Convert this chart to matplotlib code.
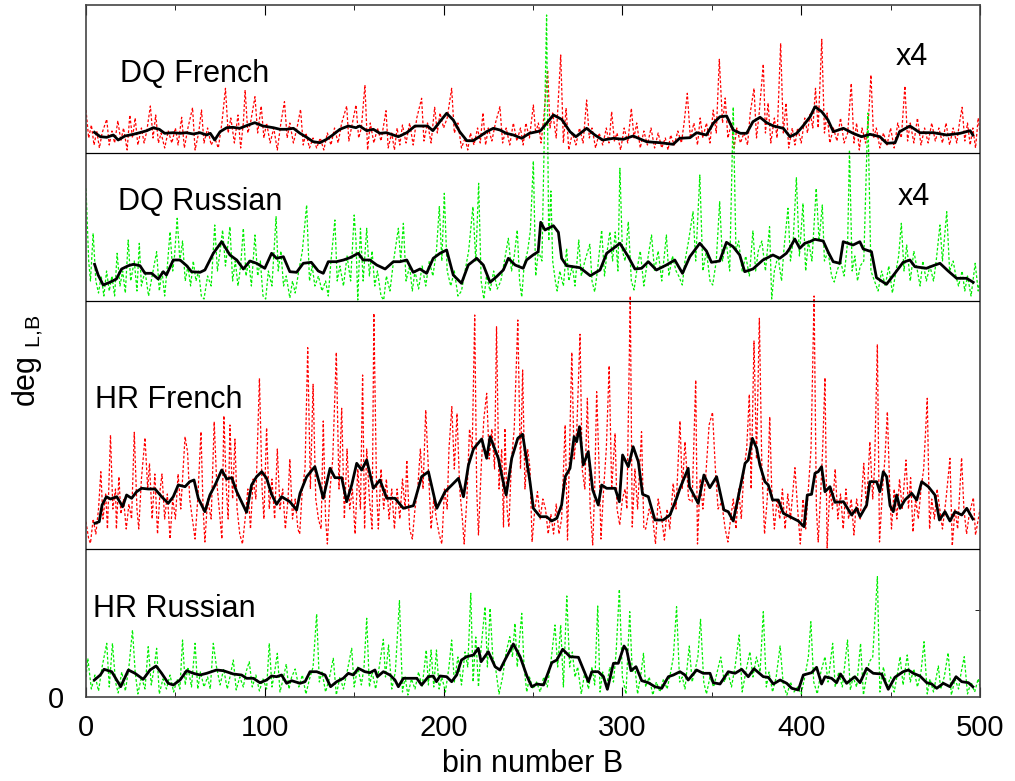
import matplotlib.pyplot as plt
from matplotlib.ticker import FixedLocator, MultipleLocator

plt.rcParams['font.family'] = ['Liberation Sans', 'DejaVu Sans']

# vertical offsets of the four stacked traces (same units as the values)
off_dq_fr = 544
off_dq_ru = 396
off_hr_fr = 148
off_hr_ru = 0
y_top = 692

# ---- DQ French (x4) ----
dq_fr_dots = [(0,43),(1.5,15),(3,28),(4.5,8),(6,22),(7.5,5),(9,20),(11.6,33.7),(13,8),(14.5,22),(16,10),(17.8,32.3),(19.5,12),(21,25),(23,3),(24.5,38),(26,15),(27.5,35),(29,8),(31,25),(32.5,10),(34,22),(36,47),(37.5,15),(39,38),(40.5,10),(42,20),(44,5),(46,22),(48,10),(50,25),(51.5,8),(53.5,35.7),(55,5),(57,25),(59.6,45.3),(61,3),(63,20),(64.6,43),(66,10),(68,25),(70,8),(72,15),(74,5),(76,30),(78,64.7),(79.5,20),(81,35),(83,10),(85,38),(86.5,5),(88,30),(89,63),(90.5,20),(92,30),(94.5,56.3),(96,20),(98,47),(99.5,15),(101,30),(103,10),(105,25),(107,3),(109,30),(111,51.3),(112.5,15),(114,30),(116,10),(118,25),(120,43.7),(121.5,8),(123,20),(125,5),(127,15),(129,5),(131,15),(133,3),(135,20),(137,8),(139,25),(141,10),(143,30),(145.8,47),(147,12),(149,30),(151,48),(152.5,15),(154,25),(156,68),(157.5,3),(159,30),(161,10),(163,25),(165,12),(167.8,42.3),(169,5),(171,20),(172.5,3),(174,25),(175.5,8),(177,28),(179,10),(181,30),(183,8),(185,35),(187.7,54.7),(189,12),(191,30),(193,10),(195,45.7),(196.5,20),(198,40),(200,25),(202,35),(204.5,64.7),(206,20),(208,30),(210,5),(212,15),(213.5,3),(215,20),(217,8),(219,25),(220.5,10),(222,40.3),(223.5,8),(225,25),(227,12),(229,30),(231.5,46.3),(233,10),(235,25),(237,8),(239,30),(241,12),(243,25),(244.5,8),(246,30),(248,15),(250.2,48),(251.5,20),(253,30),(254.5,10),(256,35),(258.2,83),(259.5,25),(261,40),(263,15),(265.5,98),(267,10),(268.5,45),(270,3),(272,20),(274,8),(276,25),(278,10),(280,53),(281.5,15),(283,25),(285,5),(287,20),(289,8),(291,25),(292.5,10),(294,41.3),(295.5,12),(297,20),(299,3),(301,25),(303,10),(305,44.7),(306.5,15),(308,30),(310,5),(312,22),(314,8),(316,25),(318,5),(320,20),(322,5),(324,15),(325.5,3),(327,18),(329,8),(331,22),(333,10),(334.5,30),(336.3,59.7),(338,15),(340,30),(342,8),(343.5,35),(345,15),(347,30),(349,10),(350.8,43),(352.5,20),(354.2,93.7),(356,30),(357.5,55),(359,15),(361,30),(362.5,5),(364,25),(366,10),(368,20),(370,8),(371.5,40),(373.6,64.7),(375,15),(376.5,40),(378.8,89),(380,20),(381.5,50),(383,10),(385,35),(386.5,15),(388.5,109.7),(390,20),(391.5,50),(393,5),(395,25),(396.5,8),(398,25),(400,10),(402,35),(403.5,20),(405,40),(406.5,25),(408,64.7),(409.5,25),(411.5,113.7),(413,20),(414.5,40),(416,10),(418,25),(420,12),(422,35),(424,10),(426,20),(428,69.7),(429.5,10),(431,30),(432.5,3),(434,25),(436,10),(437.5,30),(439,78),(440.5,15),(442,25),(444,5),(446,20),(448,8),(450,25),(452,5),(454,30),(456,15),(458,67),(459.5,12),(461,30),(463,10),(465,35),(467,8),(469,25),(471,10),(473,30),(475,12),(477,25),(479,10),(481,30),(483,8),(485,25),(487,10),(488.5,30),(490,45.7),(491.5,12),(493,30),(494.5,8),(496,25),(497.5,5),(499,35),(500,20)]
dq_fr_mean = [(4.7,20.7),(8,16.3),(11.6,15.7),(15.3,18),(18,13),(21.8,17),(26.5,18.7),(30,20.3),(34,22.3),(37.6,25.3),(41,23.7),(44,19.7),(48.8,20.3),(52.6,19.7),(56,20.3),(60,19),(63.7,20.3),(67.5,18),(69.5,19.7),(72,13),(75,21.3),(78.7,25.3),(82,25.7),(86,24.7),(90.7,28),(94.4,30.3),(99,27),(104.8,25.3),(108.5,23.7),(112,23.7),(116,24.7),(119.7,19.7),(123.4,15.7),(127,11.3),(130.8,10.3),(134.6,13.7),(138,18),(142,23.7),(146.7,27),(151,25.3),(153,27),(157,22.3),(160.7,23.7),(164.4,19.7),(168,20.3),(171.9,18),(174.7,16.3),(179.4,20.3),(184,27),(187.7,27),(191,27),(194,22.3),(197.9,31.3),(201.7,39.7),(205.4,33),(209,21.3),(213,12.3),(216.5,12.3),(220,16.3),(224,21.3),(227.8,24.7),(231.5,23),(235,19.7),(239,18),(243.7,14.7),(248,19.7),(254,22),(257.6,29.7),(261.4,38),(266,33.7),(270.7,21.3),(274,16.3),(280,24.7),(284.6,18),(289,13),(295,14.7),(300.5,13.7),(306,17),(313.5,11.3),(321,10.3),(328.4,8.7),(332,14.7),(337.8,15.3),(341.5,20.3),(347,18),(350.8,29.7),(354.6,36.3),(358.3,37),(362,23),(366,19.7),(369.5,19.7),(373,31.3),(377,35.7),(380.7,30.3),(384.5,27),(390,24.7),(393.7,16.3),(397.5,19.7),(401,27),(405,36.3),(407.7,46.3),(411.5,41.3),(415,33),(418,21.3),(423.6,24.7),(429,19.7),(433.8,16.3),(438.5,18.7),(444,16.3),(447.8,9.7),(452.5,10.3),(455,21.3),(460.8,27),(466.4,20.3),(474,20.3),(481.4,18),(488.9,19.7),(494.5,22.3),(496,18)]

# ---- DQ Russian (x4) ----
dq_ru_dots = [(0,112.7),(1.5,40),(2.5,20),(4,67.7),(5.5,20),(7,8),(8.5,25),(10,5),(11.5,30),(13,10),(14.5,25),(16,5),(17.4,47.7),(19,15),(20.5,30),(22,8),(23.6,61),(25,20),(27,40),(28.5,10),(29.8,57.7),(31,15),(33,30),(35,5),(37,25),(39.5,49.3),(41,10),(42.5,30),(44,5),(45.5,35),(47,69.3),(48.5,30),(49.5,45),(51,82.7),(52.5,40),(54,60),(55.5,20),(57,35),(58.5,15),(60,40),(61.5,20),(63,30),(64.5,5),(66,2),(68,25),(70,15),(72,76),(73.5,30),(75,50),(76.4,71),(78,35),(80.5,74.3),(82,20),(83.5,40),(85,15),(86.5,35),(88,72.7),(89.5,25),(91,40),(92.5,15),(94.5,66),(96,25),(97.5,40),(99,5),(100.5,2),(102,30),(104,15),(106.3,84.3),(107.5,30),(109,50),(110.5,15),(112,25),(114,3),(115.5,20),(117,8),(119,30),(121,50),(123.4,96),(125,20),(126.5,35),(128,15),(130,25),(132,10),(134,20),(135.5,5),(137,40),(139.2,81),(140.5,20),(142,35),(144,15),(146,45),(148,20),(150,86),(151,60),(152,1),(153.5,72.7),(155,20),(157,72.7),(158.5,25),(160,50),(161.5,15),(163,30),(165,5),(166.5,1),(168,25),(170,10),(172,40),(174.7,72.7),(176,40),(177.5,77.7),(179,20),(181,35),(182.5,10),(184,30),(186,12),(188,35),(190,15),(192,40),(194,25),(196,50),(197.6,94.3),(199,40),(200.4,107.7),(202,30),(204,15),(206,30),(208,5),(210,10),(212,30),(214,50),(216.4,94.3),(218,40),(219.6,117.7),(221,20),(222.5,2),(224,25),(226,10),(228,30),(230,12),(232,20),(234,40),(236.2,62.7),(238,30),(239.5,45),(241.2,71),(242.5,20),(243.7,4),(245,35),(247,50),(248.5,70),(250.2,140),(251.5,25),(253,50),(255,40),(257.6,286),(258.8,60),(260,110),(261,40),(262.5,20),(263.5,10),(265,30),(267,15),(268.8,52.7),(270,20),(272,35),(273.5,15),(275.6,61),(277,25),(279,40),(281.8,56.7),(283,20),(284.5,9),(286,30),(288.4,71),(290,25),(291.5,50),(293,69.3),(294.5,40),(296,69),(297.5,30),(298.6,132.7),(300,50),(301.5,40),(303.3,79.3),(305,20),(306.5,11),(308,30),(310,50),(312,15),(314,40),(316.3,66),(318,30),(320,50),(322,20),(324.6,66),(326,25),(328,45),(330,30),(331.5,25),(333.5,16),(335,40),(337,60),(339.5,89.3),(341,40),(343.3,126),(345,30),(347,50),(349,20),(350.5,16),(352.5,40),(354.4,99.3),(356,40),(358,60),(360,30),(362,194),(363.5,50),(365,60),(367,30),(369,45),(371,25),(373,70),(374.5,30),(376,50),(378,60),(380,30),(382.3,74.3),(383.5,2),(385,30),(387,45),(389,20),(390.5,55),(392.6,92.7),(394,40),(395.5,60),(397.3,123.3),(399,45),(401,97.7),(402.5,30),(404,60),(406,40),(408.4,112.7),(410,60),(411.8,96),(413,40),(415,50),(417,25),(418.5,19),(420,30),(422,40),(424,25),(426,60),(427,151),(428.5,30),(430,45),(431.5,20),(433,35),(435,40),(437.3,188),(439,30),(441,20),(443,10),(445,30),(447,15),(449,35),(451,8),(453,30),(454.5,45),(456,77.7),(457.5,30),(459,56),(461,20),(463,50),(465,30),(466.5,15),(468,40),(470,20),(472,35),(474,20),(475.5,40),(477.6,76),(479,40),(481.4,89.3),(483,30),(485,40),(486.5,25),(488,15),(490,30),(491.5,10),(493,25),(495,5),(497.3,37.7),(499,10),(500,20)]
dq_ru_mean = [(4.8,36.7),(6.8,26),(9.6,16),(13.3,18.7),(17,22),(19.9,32),(23.7,35.3),(26.5,36.7),(30.2,35.3),(33,27.7),(36.7,27.7),(40.4,22),(43.2,29.3),(45,26),(48.8,41),(52.6,41),(56.3,35.3),(59,29.3),(63.8,28.7),(66.5,31),(71.2,47.7),(75.9,59.3),(80.5,46),(84.3,41),(88,32),(91.7,40),(95.4,37.7),(100,32.7),(103.8,47.7),(106.6,42.7),(110.4,44.3),(114,29.3),(117.8,28.7),(121.5,37.7),(126,38.7),(129.9,30),(132.7,27.7),(135.5,39.3),(140,39.3),(144,41),(147.6,43.3),(152.3,47.7),(155,41),(158.8,41),(162.6,36),(167.3,32),(171.9,39.3),(175.6,39.3),(179.4,41),(183,28.7),(186.8,32),(190.5,27.7),(194.2,42.7),(198,47.7),(201.7,51),(205.4,26),(210,17.7),(213.8,36),(218.5,42.7),(222.2,36),(226,18.7),(229.6,24.3),(233.4,31),(236.2,42.7),(240,36),(244.5,32.7),(246.4,41),(250,46),(252.9,49.3),(254.3,78.7),(256.7,71),(261.4,75.3),(264.2,68.7),(266,42.7),(268.8,35.3),(276.3,33.3),(282,25.3),(287.5,31),(291.2,47.7),(295,52.7),(298.6,57.7),(303.3,44.3),(307,32),(310.7,32.7),(314.5,39.3),(319,31),(324.6,36),(329.3,41),(333.6,27.7),(337.7,44.3),(343.3,57.7),(347,50),(349.8,38.7),(354.4,40),(358.2,58.7),(361.9,54.3),(365.6,46),(368.4,29.3),(373,32),(378.6,41),(384.2,46),(388,42.7),(391.7,47.7),(393.6,52.7),(396.4,62),(399.2,52.7),(402,57.7),(404.8,59.3),(407.6,61.7),(412.3,60),(415,49.3),(417.9,39.3),(421.6,37.7),(423.5,59.3),(429,56),(432.8,59.3),(434.7,52),(439.3,49.3),(442.1,23.3),(447.7,16.7),(452.4,27.7),(457,38.7),(460.8,41),(463.6,34.3),(470,32.7),(473.8,35.3),(477.6,37.7),(482.2,30),(486.9,22.7),(492.5,22.7),(496.2,18.7)]

# ---- HR French ----
hr_fr_dots = [(0,27.3),(1.5,10),(2.5,5.7),(4,30),(5.5,15),(7,40),(8.3,77.3),(9.5,30),(11,55),(12,20),(13.7,114),(15,40),(16.5,60),(17,20),(18.4,72.3),(19.5,35),(21,50),(22.5,20),(24,45),(25.5,30),(27,116.7),(28.5,40),(29.5,20),(31,70),(33,111.3),(34.5,60),(35.5,85.7),(37,30),(38.5,75),(40,15),(41.5,60),(42.5,75),(44,30),(45.5,55),(47,10),(48.5,50),(50,30),(51.5,75),(53,40),(55.4,112.3),(56.8,97),(58,50),(59.5,30),(61,10),(62.5,50),(64.3,117.3),(65.5,40),(66.5,7),(68,50),(70,30),(71.7,127.3),(73,70),(74.5,40),(76,10),(77.1,133.3),(78.5,60),(79.5,30),(80.5,124),(82,50),(83.3,110),(84.5,40),(86,15),(87.5,5),(89,30),(90.5,60),(92,20),(93.5,70),(95,50),(97,170.7),(98.5,60),(99.5,30),(101,121.3),(102.5,40),(104,70),(105.5,30),(107,100),(108.5,40),(110,60),(111.5,20),(113,50),(114,90),(115.5,30),(117,50),(118.5,20),(119.5,15),(121,60),(122.5,80),(124,201.3),(125.5,60),(127,164.7),(128.5,50),(130,30),(131.5,20),(132.7,128),(134,30),(135,5),(136.5,60),(138,90),(140,196.7),(141.5,60),(143,140.7),(144.5,30),(146,100),(147.5,40),(149,60),(150.5,15),(152,80),(153.5,40),(154.7,174),(155.8,20),(157,100),(158.5,50),(160,20),(161,235.7),(162.5,60),(163.5,20),(165,80),(166.5,40),(168,70),(169.5,30),(171,60),(172.5,20),(174,60),(175.5,30),(177,70),(178.5,40),(179.4,89),(181,20),(182.5,10),(184,40),(185.5,60),(187,100),(188.5,60),(190,139),(191.5,80),(193,20),(194.5,50),(196,30),(197.5,15),(199,5),(200.5,60),(202,40),(203,100),(204.6,142.3),(206,80),(207.5,135.7),(209,60),(210.5,30),(211.5,5),(213,50),(214.5,120),(216,100),(217.4,234),(218.5,60),(219.5,14),(221,80),(222.5,130),(224.1,155.7),(225.5,90),(227,120),(228.5,80),(229.6,222.3),(231,60),(232.5,100),(233.5,22),(234.3,120.7),(235.5,40),(236.5,22),(238,90),(239.5,120),(241.5,229),(243,80),(244.2,179),(245.5,60),(247,100),(248.3,80.7),(249.5,7),(251,40),(252.5,57.3),(254,30),(255.5,50),(257,40),(258.5,15),(260,35),(261.5,15),(263,45),(264.5,15),(266,30),(268,124),(269.3,9),(271.7,196.7),(273,90),(274.5,120),(276.3,214.7),(277.5,80),(279,60),(280.4,150.7),(282,40),(283.4,4),(284.5,60),(285.6,157.3),(287,80),(288,10),(289.5,60),(291,100),(292.6,183.3),(294,60),(295.9,115.7),(297,40),(298.5,24),(300,50),(301.5,60),(302.5,40),(304.4,253),(305.5,22),(307,80),(308.5,40),(310.7,117.3),(312,20),(313,20),(315,40),(317,30),(318.5,5),(320,50),(322,30),(323.5,9),(325,40),(326.5,20),(328.4,65.7),(330,40),(332.2,128),(333.5,60),(335,107.3),(337,50),(339,47),(341,169),(342,5),(343.5,70),(345,40),(346.5,70),(348.5,124),(350.4,136.7),(352,80),(353.5,40),(355.5,47),(357.5,20),(359,7),(360.5,30),(362,50),(363.5,20),(365,60),(366.5,30),(368,80),(369.5,100),(371,154.7),(372,60),(373.6,208),(375,90),(376.6,230.7),(378,80),(379.5,15),(381,50),(382.4,132.3),(383.5,60),(385,20),(386.5,50),(388,30),(389.5,60),(391,20),(392.5,55),(394,30),(396.5,81.3),(398,40),(399.5,5),(401,50),(402.5,20),(404,60),(405.5,100),(407.2,253),(408.5,40),(409.5,7),(411,60),(412,100),(413.3,171.3),(414.5,1),(416,60),(417.5,40),(419,80),(420.5,30),(422,55),(423.5,20),(425,60),(426.5,30),(428,50),(429.5,14),(431,50),(433,30),(435,85.7),(436.5,40),(438.4,107.3),(440,50),(441,80),(442.6,204.7),(443.8,7),(445.5,60),(446.8,90),(448.2,137.3),(449.5,60),(450.5,20),(452,60),(453.5,30),(455,70),(456.5,40),(458.6,89),(460,40),(461.2,71.3),(462.5,17),(464,50),(465.5,30),(467,60),(468.5,80),(470.5,150.7),(471.8,20),(473,50),(474.5,30),(476,60),(477.5,40),(479,20),(481,50),(483.2,90.7),(484.5,3),(486,40),(487.5,20),(489.7,91.3),(491,40),(492.5,15),(494,35),(496.3,51.3),(497.5,14),(499,30),(500,40)]
hr_fr_mean = [(5,25.7),(7.4,27.3),(9,44),(11.4,52.3),(13.7,50),(17.2,52.3),(20.5,42.3),(22.7,54),(25.5,50.7),(28.3,57.3),(31.1,60.7),(34.8,60),(38.6,60),(42.3,52.3),(46,45.7),(48.8,52.3),(51.6,64),(55.4,62.3),(58,67.3),(60.4,69),(62.8,50.7),(66.5,37.3),(69.3,54),(72.2,64),(75.9,79),(78.7,70),(81.5,71.3),(84.3,57.3),(87,47.3),(89.8,36.7),(92.6,64),(95.4,72.3),(98.3,77.3),(101,70.7),(103.8,54.7),(106.6,44.7),(109.4,52.3),(114,47.3),(117.8,39),(119.7,55.7),(123.4,72.3),(128,82.3),(130.8,64),(132.7,50.7),(136.5,80.7),(139.2,71.3),(143,71.3),(145.8,47.3),(148.6,64),(151.4,85.7),(154.2,79),(157,89),(160.7,60.7),(164.4,69),(168.2,50.7),(172.8,50.7),(177.5,40.7),(183.1,43.3),(187.7,72.3),(191.5,77.3),(196.2,40.7),(200.8,57.3),(204.6,64),(208.3,70.7),(211.1,52.3),(213.9,84),(216.7,100),(221.3,110),(224.1,90.7),(226,112.3),(230.6,90.7),(232.5,74),(235,54),(238.1,90.7),(241.5,110.7),(244.2,114.7),(248.3,67.3),(250.2,40.7),(254,32.3),(257.6,32.3),(260.4,28),(263.3,30.7),(266,44),(268,72.3),(270.7,80.7),(273,112.3),(274.4,107.3),(276,122.3),(278.1,84),(280.9,97.3),(283.4,59),(286.5,44),(288.4,64),(291.2,60.7),(295.9,60.7),(298.3,47.3),(300.1,94),(303.3,82.3),(306,102.3),(308.9,87.3),(311.3,54.7),(314.5,52.3),(318.2,29),(322.8,29),(326.6,34),(330.3,50.7),(332.2,60.7),(336.8,80.7),(337.5,62.3),(342.4,45.7),(345.6,74),(348.9,61.3),(352.7,72.3),(356.8,39),(359.2,37.3),(362,28),(365.8,60.7),(368.6,85.7),(370.4,89),(372.7,110.7),(375.1,100.7),(376.9,84),(379.7,67.3),(381.6,64),(384,49),(387.2,49),(390,35.7),(393.7,32.3),(398.4,28),(401.6,22.3),(403.4,54),(405.8,54.7),(407.7,75.7),(409.5,77.3),(411.4,82.3),(413.3,57.3),(416.1,62.3),(418.9,46.7),(423.6,47.3),(428.2,34),(431,40.7),(432.9,32.3),(436.6,44),(438.4,67.3),(442.2,67.3),(444,57.3),(445.9,77.3),(447.8,72.3),(449.7,43.3),(451.5,37.3),(453.4,54),(455.3,40.7),(458,49),(461.8,55.7),(464.6,49),(467.4,67.3),(471.1,62.3),(474.8,54),(477.3,29),(480.4,37.3),(483.2,28),(486,37.3),(489.8,34),(492.6,40.7),(496,30)]

# ---- HR Russian ----
hr_ru_dots = [(0,20),(1,38.7),(3,8),(5,22),(7,6),(9,30),(11.6,53.7),(13,10),(14.8,53.7),(16.5,15),(18,4),(20,25),(22,6),(24,30),(26,67),(27.5,25),(29,3),(31,20),(33,8),(34.8,50.3),(36.5,12),(38,28),(39.5,48.7),(41,3),(43,18),(45,8),(47,22),(49,5),(51,18),(52.5,8),(54,57),(55.5,12),(57,30),(59,10),(61,53.7),(62.5,8),(64,25),(66,10),(68,20),(69.5,8),(71.2,53.7),(73,30),(75,12),(77,28),(79,8),(80.5,20),(82.4,37),(84,7),(86,20),(88,10),(89.5,25),(91.3,35.3),(93,10),(95,22),(97,6),(99,18),(101,8),(102.5,53.7),(104,10),(105.5,25),(107,43.7),(108.5,5),(110.5,20),(112,33),(113.5,8),(115,20),(117,28),(119,10),(121,22),(123,3),(125,18),(127,30),(129,83),(130.5,15),(132,25),(134,5),(136,18),(138.3,38.7),(140,2),(142,20),(144,8),(146,25),(148.6,48.7),(150,10),(152,30),(154,12),(155.5,30),(157,78.7),(158.5,10),(160,25),(162,8),(164,30),(166.3,57.7),(167.5,20),(169.2,52),(171,8),(173,25),(175.3,96.3),(177,5),(178.5,20),(180,2),(182,18),(184,8),(186,25),(188,10),(190.3,47),(191.5,12),(193,47),(194.5,10),(196,47),(197.5,8),(199,20),(201,5),(203,30),(204.5,57),(206,15),(208,40),(210,12),(212,45),(213.5,30),(215.2,103.7),(216.5,15),(218,60),(219.5,10),(221,50),(223.2,90.3),(224.5,30),(226,88.7),(227.5,40),(229,30),(231,3),(233,20),(235,45),(237,60.3),(238.5,40),(239.9,73.7),(241.2,30),(243.7,83.7),(245,30),(246.5,5),(248,20),(250,8),(252,15),(254,5),(256,20),(258,10),(260,35),(262.3,72),(263.8,30),(265.5,72),(267,10),(268.9,101),(270.5,30),(272,45),(273.5,20),(275,30),(277,3),(279,25),(281,8),(283,30),(284.5,12),(286.2,91),(287.5,5),(289,25),(291,10),(293,30),(295,15),(296.5,45),(298.3,107.7),(300,20),(302,3),(304.1,85.3),(305.5,25),(307,30),(308.5,3),(310.5,25),(311.8,43.7),(313,10),(315,20),(317,2),(319,15),(321,5),(323,18),(325,8),(327,25),(328.5,40),(330.3,90.3),(332,15),(333.5,20),(335,8),(337.4,51),(339,15),(341,30),(342.2,40),(343.7,77.7),(345.5,15),(347,3),(349,20),(351,10),(353,25),(355,40),(357,15),(359,25),(361,10),(363,30),(365.3,62),(367,5),(369,25),(371.3,45.3),(373,20),(375,40),(377,25),(378.8,85.3),(380.5,10),(382,25),(384,5),(386,20),(388.2,51),(390,12),(392,2),(394,15),(396,5),(398,10),(400,3),(402,20),(404,40),(405.4,75.3),(407,15),(409,3),(411,25),(413.3,40.3),(415,15),(417.6,53.7),(419,10),(421,25),(423,10),(425.9,57),(427.5,7),(429,20),(431,10),(433.2,53.7),(434.8,2),(436.5,20),(438,35),(440,40),(442.6,120.3),(444,5),(446,30),(448,10),(450,20),(452,5),(454,25),(455.3,40.3),(457,12),(459.3,42),(461,15),(463,28),(465,10),(467,25),(468.7,55.3),(470.5,3),(472,18),(474,5),(476.7,31),(478,8),(480,20),(482.2,44.3),(484,2),(486,18),(488,8),(489.5,25),(491.2,40.3),(493,3),(495,15),(497,5),(499,18.3),(500,10)]
hr_ru_mean = [(4.7,17),(8,22),(10.1,27.7),(14.4,25.3),(17.2,17),(19.4,10.3),(23.7,27),(27.4,23.7),(32,17.7),(35.8,27),(39.2,31),(42.3,23.7),(46,13.7),(48.8,12),(52.6,17),(56.3,26.3),(60,23.7),(63.8,22),(67.5,23.7),(73,27),(76.8,26.3),(82.4,23),(87,22),(89.8,18.7),(93.6,18.7),(97.3,14.3),(101,17),(103.8,21),(106.6,20.3),(109.4,22),(112.2,13.7),(115,16.3),(119.7,13.7),(122.5,15.3),(125.3,25.3),(129,25.3),(133.7,22),(136.8,10.3),(140.2,15.3),(143.9,18.7),(146.7,23.7),(149.5,22),(152.3,28.7),(156,25.3),(158.8,24.3),(161.6,27),(163,20.3),(166.3,25.3),(170,22),(172.8,17),(174.7,10.3),(177.5,18.7),(181.2,18.7),(185,18.7),(187.7,12),(191.5,20.3),(194.2,21),(196,15.3),(198,21),(201.7,20.3),(204.5,15.3),(207.3,22),(210,37),(212.9,40.3),(216.7,42),(219.4,48.7),(221,35.3),(225,45.3),(228.8,30.3),(231.5,27),(234.3,37),(239,53),(242.8,40.3),(246.6,21),(249.3,10.3),(252.2,13),(255.9,12),(260.5,34.3),(263.3,37),(266.6,47.7),(270.7,40.3),(275.4,39.7),(279.1,23.7),(281,15.3),(282.9,25.3),(286.5,25.3),(289.4,20.3),(291.6,7.7),(295,33.7),(297.7,33.7),(300.9,51),(302.4,47),(304.8,26.3),(307.6,30.3),(310.8,16.3),(314.5,14.3),(318.2,10.3),(322,8.7),(325.7,20.3),(328.5,22),(332.2,25.3),(335,22),(336.8,17),(341.5,27),(345.2,23.7),(349,23.7),(350.8,14.3),(354.6,13),(359.2,25.3),(363,23.7),(366.7,27.7),(370.4,20.3),(373.6,28.3),(378.8,20.3),(381.6,19.7),(384.4,13),(388.2,17),(391.9,13.7),(394.7,8.7),(398.4,7),(401.2,22),(405.8,24.3),(408.6,29.7),(411.4,13),(413.3,20.3),(417,18.7),(419.8,14.3),(422,23),(425.4,13.7),(430,20.3),(432.9,14.3),(436.6,28.7),(440.3,23.7),(445,23),(448.7,7.7),(452.4,19.7),(457,25.3),(459.9,27),(462.7,23.7),(466.4,21),(470.2,14.3),(473,13),(475.8,8.7),(479.5,13.7),(483.2,10.3),(486.6,20.3),(489.8,15.3),(493.5,14.3),(496,10.3)]

series = [
    (dq_fr_dots, dq_fr_mean, off_dq_fr, '#ff0000'),
    (dq_ru_dots, dq_ru_mean, off_dq_ru, '#00ee00'),
    (hr_fr_dots, hr_fr_mean, off_hr_fr, '#ff0000'),
    (hr_ru_dots, hr_ru_mean, off_hr_ru, '#00ee00'),
]

fig = plt.figure(figsize=(10.15, 7.81), dpi=100)
ax = fig.add_axes([86/1015, 1-697/781, 894/1015, 692/781])

# thin dotted raw traces first, smoothed black curves on top
for dots, mean, off, col in series:
    ax.plot([p[0] for p in dots], [p[1] + off for p in dots],
            color=col, lw=0.9, linestyle=(0, (2.2, 1.6)), zorder=2)
for dots, mean, off, col in series:
    ax.plot([p[0] for p in mean], [p[1] + off for p in mean],
            color='black', lw=2.0, zorder=3, solid_joinstyle='round')

# separators between panels
for yy in [off_dq_fr, off_dq_ru, off_hr_fr]:
    ax.axhline(yy, color='black', lw=0.9, zorder=4)

# panel labels
lab_fs = 22
ax.text(19, 615, 'DQ French', fontsize=lab_fs)
ax.text(453, 632, 'x4', fontsize=lab_fs)
ax.text(17.9, 487, 'DQ Russian', fontsize=lab_fs)
ax.text(454, 492, 'x4', fontsize=lab_fs)
ax.text(5, 289, 'HR French', fontsize=lab_fs)
ax.text(3.9, 80, 'HR Russian', fontsize=lab_fs)

ax.set_xlim(0, 500)
ax.set_ylim(0, y_top)
ax.xaxis.set_major_locator(MultipleLocator(100))
ax.xaxis.set_minor_locator(MultipleLocator(50))
ax.tick_params(axis='x', which='both', direction='in', top=True, labelsize=21, pad=12)
ax.tick_params(axis='x', which='major', length=7)
ax.tick_params(axis='x', which='minor', length=3.5)

ax.set_yticks([0])
ax.set_yticklabels(['0'])
ax.yaxis.set_minor_locator(FixedLocator([87]))
ax.tick_params(axis='y', which='major', direction='in', length=0, labelsize=21, pad=16)
ax.tick_params(axis='y', which='minor', direction='in', left=False, right=True, length=3.5)

for sp in ax.spines.values():
    sp.set_color('#444444')
    sp.set_linewidth(1.2)

ax.set_xlabel('bin number B', fontsize=22, labelpad=5)
ax.set_ylabel('deg $_{\\mathregular{L{,}B}}$', fontsize=22, labelpad=2, y=0.486)

plt.savefig('out.png', dpi=100)
